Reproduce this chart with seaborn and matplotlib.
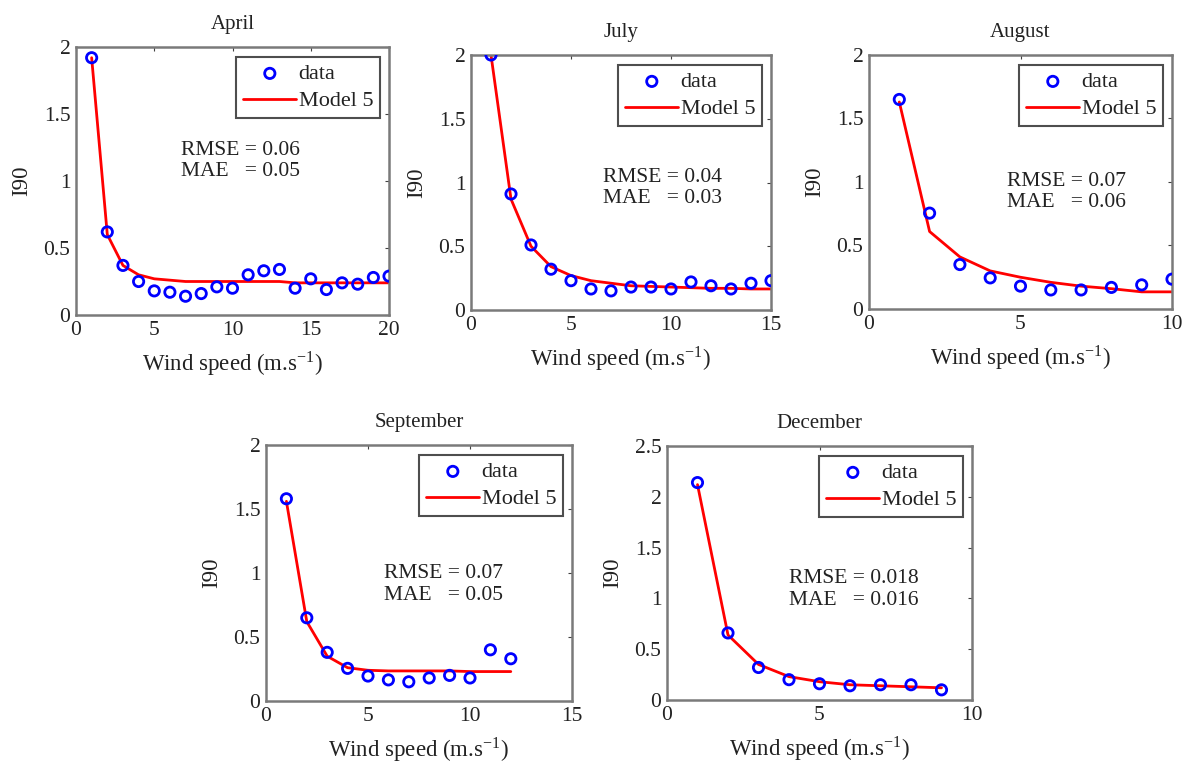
import numpy as np
import pandas as pd
import matplotlib
matplotlib.use("Agg")
import matplotlib.pyplot as plt
import seaborn as sns

# ---- data ----
april_x = list(range(1, 21))
april_data = [1.92, 0.62, 0.37, 0.25, 0.18, 0.17, 0.14, 0.16, 0.21, 0.20,
              0.30, 0.33, 0.34, 0.20, 0.27, 0.19, 0.24, 0.23, 0.28, 0.29]
april_model = [1.92, 0.60, 0.37, 0.30, 0.27, 0.26, 0.25, 0.25, 0.25, 0.25,
               0.25, 0.25, 0.25, 0.24, 0.24, 0.24, 0.24, 0.24, 0.24, 0.24]

july_x = list(range(1, 16))
july_data = [2.00, 0.91, 0.51, 0.32, 0.23, 0.165, 0.15, 0.18, 0.18, 0.165,
             0.22, 0.19, 0.165, 0.21, 0.23]
july_model = [2.00, 0.87, 0.50, 0.34, 0.27, 0.23, 0.21, 0.19, 0.185, 0.18,
              0.175, 0.17, 0.17, 0.165, 0.165]

august_x = list(range(1, 11))
august_data = [1.65, 0.755, 0.35, 0.245, 0.18, 0.15, 0.15, 0.17, 0.19, 0.235]
august_model = [1.63, 0.61, 0.41, 0.30, 0.25, 0.21, 0.18, 0.16, 0.135, 0.135]

september_x = list(range(1, 13))
september_data = [1.58, 0.65, 0.38, 0.255, 0.195, 0.165, 0.15, 0.18, 0.20, 0.18, 0.40, 0.33]
september_model = [1.56, 0.62, 0.35, 0.26, 0.24, 0.235, 0.235, 0.235, 0.235, 0.23, 0.23, 0.23]

december_x = list(range(1, 10))
december_data = [2.14, 0.66, 0.32, 0.20, 0.16, 0.14, 0.15, 0.15, 0.10]
december_model = [2.12, 0.64, 0.35, 0.23, 0.18, 0.15, 0.14, 0.13, 0.12]

titles = ["April", "July", "August", "September", "December"]
rmse_labels = ["0.06", "0.04", "0.07", "0.07", "0.018"]
mae_labels = ["0.05", "0.03", "0.06", "0.05", "0.016"]
xlims = [20, 15, 10, 15, 10]
ylims = [2, 2, 2, 2, 2.5]

sns.set_theme(style="white")
plt.rcParams['font.family'] = ['Liberation Serif', 'DejaVu Serif']
plt.rcParams['mathtext.fontset'] = 'stix'

W, H = 1184, 764
fig = plt.figure(figsize=(W / 100, H / 100), dpi=100)
fig.patch.set_facecolor("white")

# pixel boxes: left, right, top, bottom
boxes = [(76, 389, 47, 315), (471, 771, 55, 310), (869, 1172, 55, 309),
         (266, 572, 445, 701), (667, 972, 446, 700)]
# annotation anchor (axes fraction, left / vertical centre)
ann_pos = [(0.335, 0.575), (0.44, 0.48), (0.455, 0.46), (0.385, 0.455), (0.40, 0.435)]

sets = [(april_x, april_data, april_model), (july_x, july_data, july_model),
        (august_x, august_data, august_model),
        (september_x, september_data, september_model),
        (december_x, december_data, december_model)]

for i, (xs, ds, ms) in enumerate(sets):
    l, r, t, b = boxes[i]
    ax = fig.add_axes([l / W, (H - b) / H, (r - l) / W, (b - t) / H])
    df = pd.DataFrame({"x": xs, "data": ds, "model": ms})
    sns.scatterplot(data=df, x="x", y="data", ax=ax, marker="o", s=55,
                    facecolors="none", edgecolor="#0000ff", linewidth=2,
                    label="data", zorder=3)
    sns.lineplot(data=df, x="x", y="model", ax=ax, color="#ff0000",
                 linewidth=2, label="Model 5", zorder=2)
    ax.set_xlim(0, xlims[i])
    ax.set_ylim(0, ylims[i])
    xt = np.arange(0, xlims[i] + 0.1, 5)
    ax.set_xticks(xt)
    ax.set_xticklabels([f"{v:g}" for v in xt])
    yt = np.arange(0, ylims[i] + 0.01, 0.5)
    ax.set_yticks(yt)
    ax.set_yticklabels([f"{v:g}" for v in yt])
    ax.tick_params(direction="in", top=True, right=True, length=3,
                   width=0.8, color="#404040", labelsize=15.5, pad=4,
                   labelcolor="#222222")
    for s in ax.spines.values():
        s.set_color("#7a7a7a")
        s.set_linewidth(1.8)
    ax.set_xlabel("Wind speed (m.s$^{\\mathregular{-1}}$)", fontsize=16.5,
                  labelpad=7, color="#222222")
    ax.set_ylabel("I90", fontsize=16.5, labelpad=8, color="#222222")
    ax.set_title(titles[i], fontsize=15, pad=13, color="#222222")
    ax.text(ann_pos[i][0], ann_pos[i][1],
            f"RMSE = {rmse_labels[i]}\nMAE   = {mae_labels[i]}",
            transform=ax.transAxes, fontsize=15.5, va="center", ha="left",
            linespacing=1.15, color="#222222")
    leg = ax.legend(loc="upper right", fontsize=16, frameon=True, fancybox=False,
                    edgecolor="#222222", borderpad=0.3, labelspacing=0.3,
                    handlelength=2.4, handletextpad=0.1, borderaxespad=0,
                    bbox_to_anchor=(1 - 9 / (r - l), 1 - 10 / (b - t)))
    leg.get_frame().set_linewidth(1.5)
    for txt in leg.get_texts():
        txt.set_color("#222222")

fig.savefig("out.png", dpi=100, facecolor="white")
